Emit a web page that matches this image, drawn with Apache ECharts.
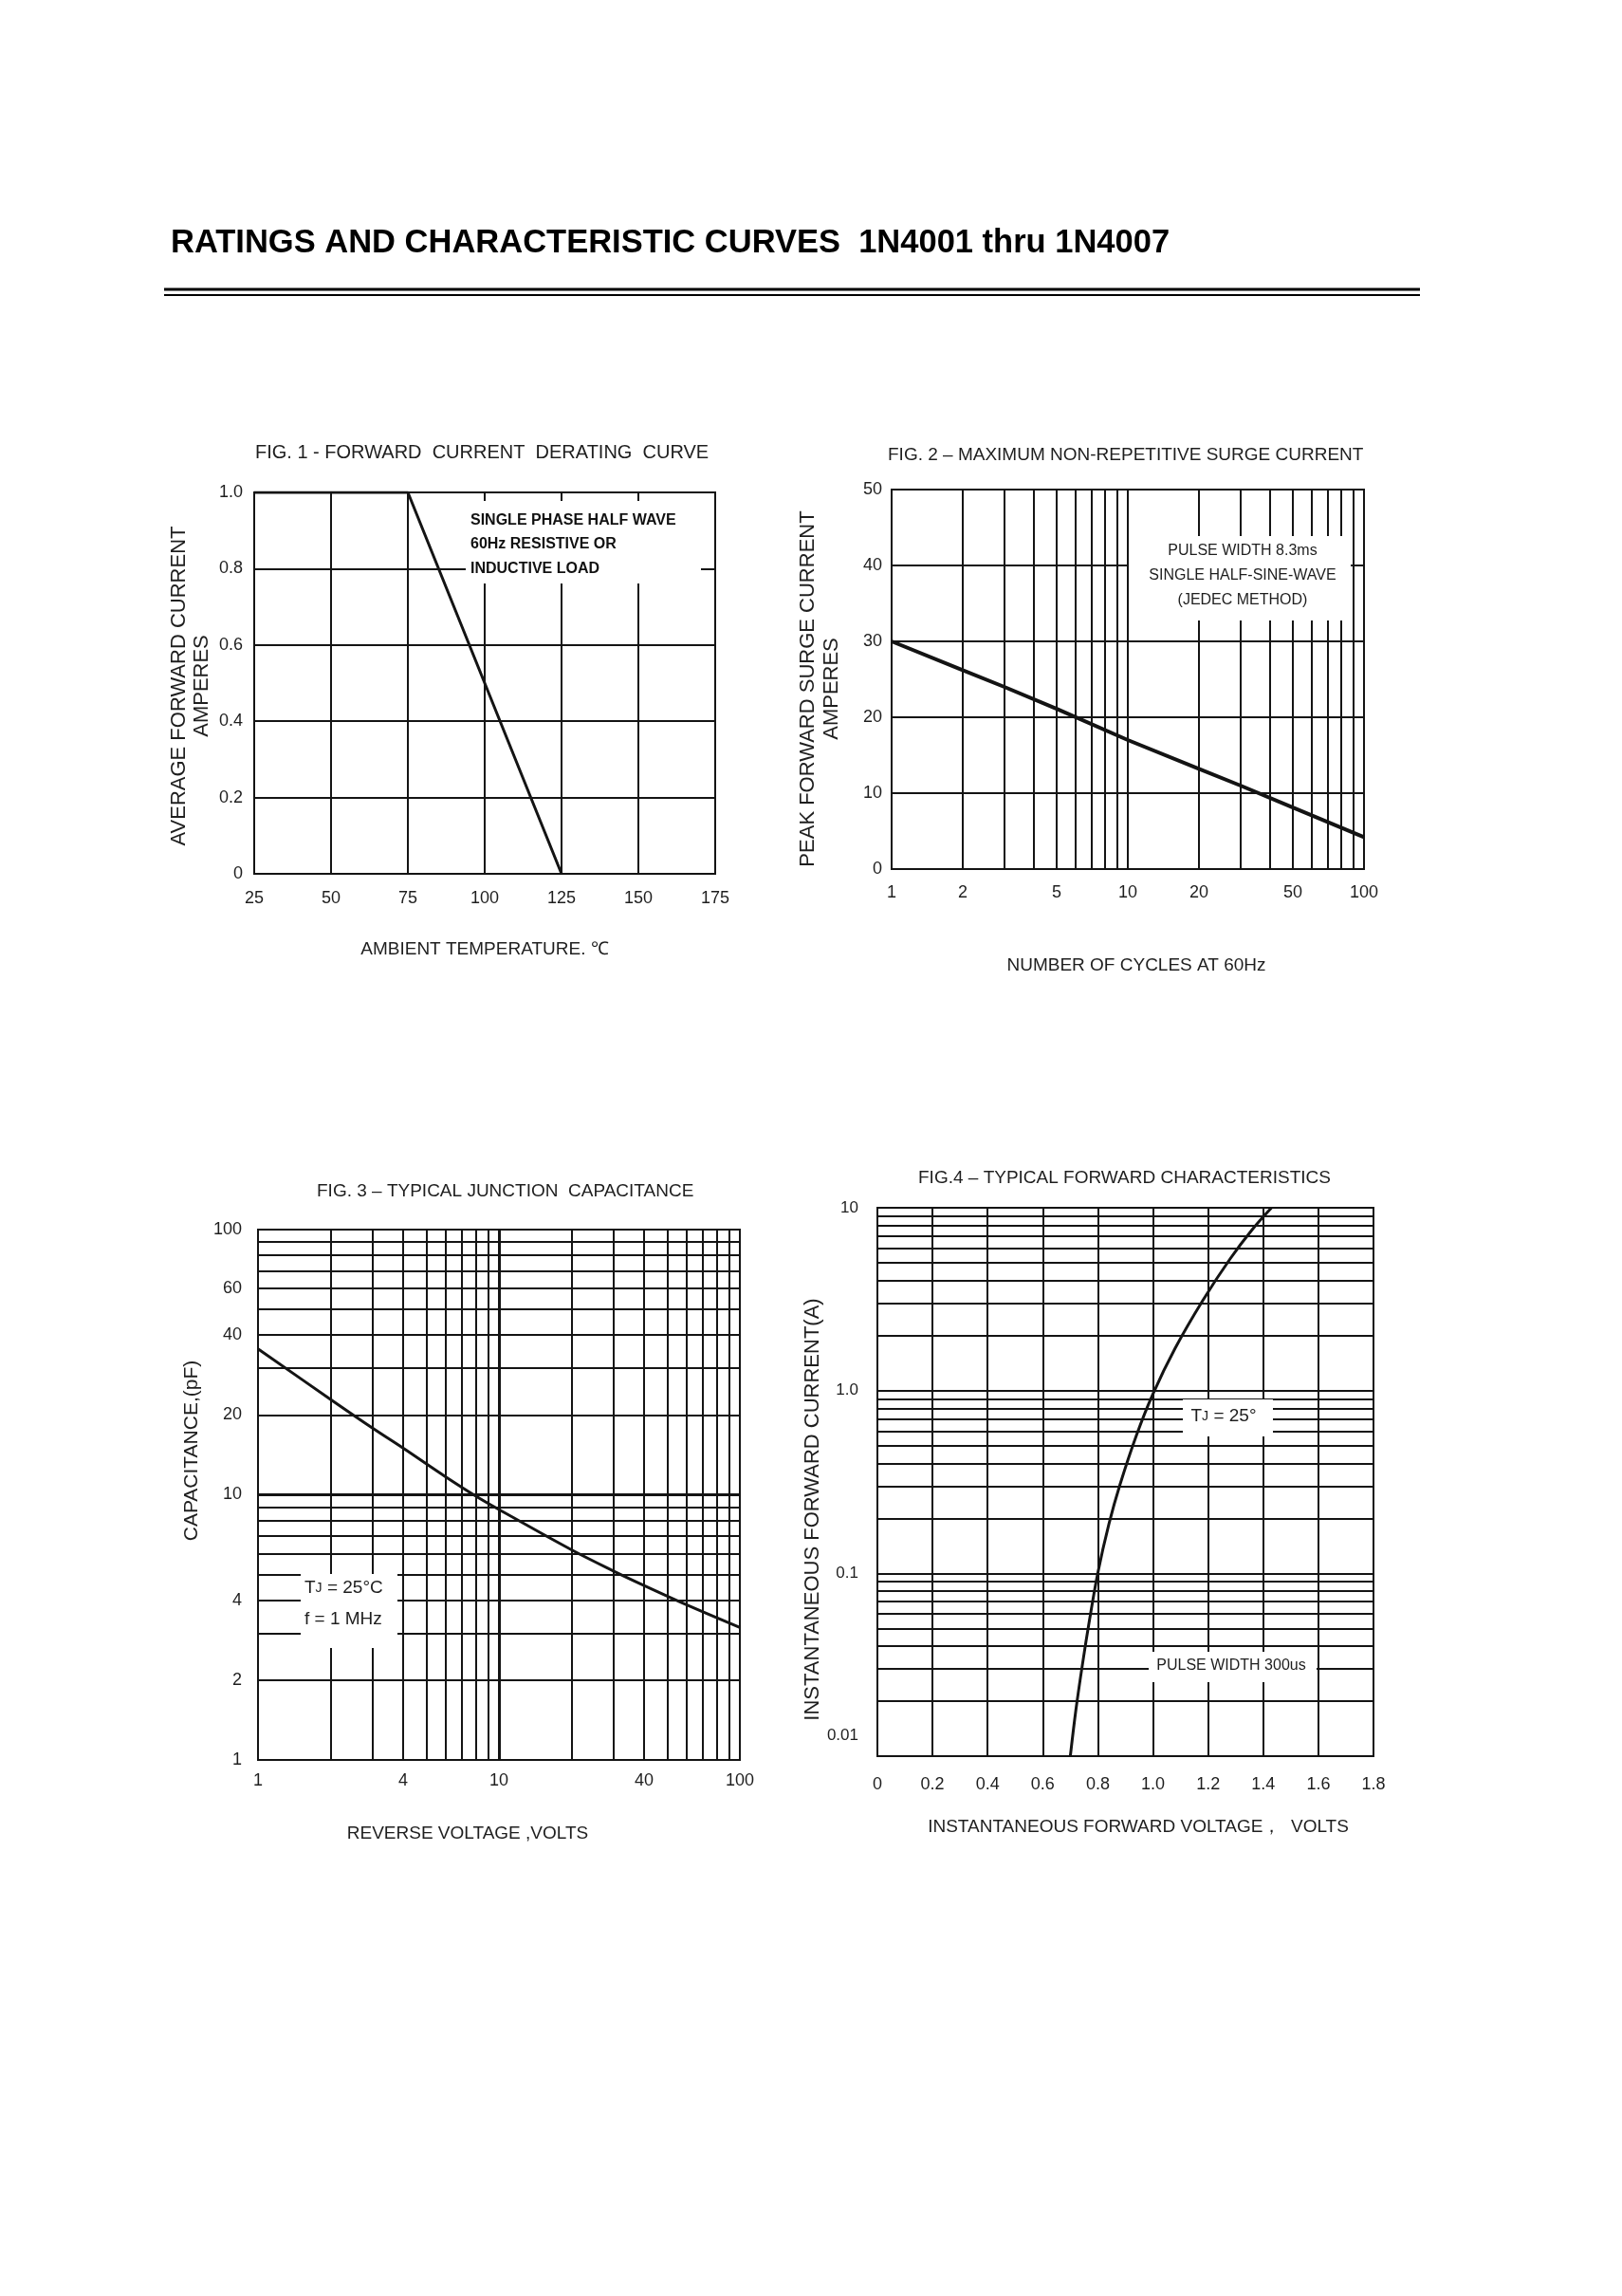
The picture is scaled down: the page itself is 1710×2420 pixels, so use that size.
<!DOCTYPE html>
<html>
<head>
<meta charset="utf-8">
<title>1N4001 thru 1N4007</title>
<script src="https://cdn.jsdelivr.net/npm/echarts@6/dist/echarts.min.js"></script>
<style>
  html, body { margin: 0; padding: 0; background: #fff; }
  #chart { width: 1710px; height: 2420px; }
</style>
</head>
<body>
<div id="chart"></div>
<script>
// FIG. 1 - forward current derating
const fig1Temp = [25, 75, 125]
const fig1Current = [1.0, 1.0, 0]

// FIG. 2 - max non-repetitive surge current
const fig2Cycles = [1, 2, 3, 5, 10, 20, 30, 50, 100]
const fig2Surge = [30, 26.2, 24, 21.1, 17, 13.2, 11, 8.1, 4.2]
const fig2CycleLabels = [1, 2, 5, 10, 20, 50, 100]
const fig2CycleGrid = [2, 3, 4, 5, 6, 7, 8, 9, 10, 20, 30, 40, 50, 60, 70, 80, 90]

// FIG. 3 - typical junction capacitance
const fig3Voltage = [1, 2, 3, 4, 6, 8, 10, 20, 30, 40, 60, 100]
const fig3Cap = [35.5, 22.9, 17.8, 15.0, 11.7, 9.9, 8.8, 6.2, 5.15, 4.55, 3.85, 3.16]
const fig3VoltLabels = [1, 4, 10, 40, 100]
const fig3CapLabels = [1, 2, 4, 10, 20, 40, 60, 100]
const fig3LogGrid = [2, 3, 4, 5, 6, 7, 8, 9, 20, 30, 40, 50, 60, 70, 80, 90]

// FIG. 4 - typical forward characteristics
const fig4Voltage = [0.70, 0.72, 0.745, 0.77, 0.80, 0.84, 0.88, 0.94, 1.00, 1.08, 1.18, 1.28, 1.36, 1.43]
const fig4Current = [0.01, 0.0178, 0.0325, 0.056, 0.101, 0.186, 0.305, 0.57, 0.96, 1.7, 3.1, 5.26, 7.6, 10]
const fig4CurrentGrid = [0.02, 0.03, 0.04, 0.05, 0.06, 0.07, 0.08, 0.09, 0.1,
  0.2, 0.3, 0.4, 0.5, 0.6, 0.7, 0.8, 0.9, 1, 2, 3, 4, 5, 6, 7, 8, 9]

const INK = '#141414'
const TXT = '#1e1e1e'
const FONT = '"Liberation Sans", Arial, Helvetica, sans-serif'

const chart = echarts.init(document.getElementById('chart'), null, { renderer: 'canvas' })

function zip(xs, ys) {
  return xs.map((x, i) => [x, ys[i]])
}

// grid lines that the log axes can not draw by themselves
function gridLines(idx, xs, ys, extra) {
  const data = xs.map(v => ({ xAxis: v })).concat(ys.map(v => ({ yAxis: v })))
  ;(extra || []).forEach(e => data.push(e))
  return {
    type: 'line',
    xAxisIndex: idx,
    yAxisIndex: idx,
    data: [],
    silent: true,
    showSymbol: false,
    z: 1,
    markLine: {
      silent: true,
      animation: false,
      symbol: ['none', 'none'],
      label: { show: false },
      emphasis: { disabled: true },
      lineStyle: { color: INK, width: 2, type: 'solid' },
      data: data
    }
  }
}

function curve(idx, data, smooth, width) {
  return {
    type: 'line',
    xAxisIndex: idx,
    yAxisIndex: idx,
    data: data,
    smooth: smooth,
    showSymbol: false,
    silent: true,
    z: 5,
    lineStyle: { color: INK, width: width || 3 }
  }
}

const labelBase = { color: TXT, fontSize: 18, fontFamily: FONT }
const gridBase = { show: true, borderColor: INK, borderWidth: 2, backgroundColor: 'transparent' }
const split = { show: true, lineStyle: { color: INK, width: 2 } }

function txt(x, y, s, extra) {
  return {
    type: 'text', x: x, y: y, z: 60, silent: true,
    style: Object.assign({
      text: s, fill: TXT, fontSize: 19, fontFamily: FONT,
      align: 'center', verticalAlign: 'middle'
    }, extra || {})
  }
}
function vtxt(x, y, s, size) {
  const t = txt(x, y, s, { fontSize: size || 22 })
  t.rotation = Math.PI / 2
  return t
}
function mask(x, y, w, h) {
  return { type: 'rect', z: 50, silent: true, shape: { x: x, y: y, width: w, height: h }, style: { fill: '#fff' } }
}

const option = {
  animation: false,
  backgroundColor: '#fff',
  grid: [
    Object.assign({ left: 268, top: 519, width: 486, height: 402 }, gridBase),
    Object.assign({ left: 940, top: 516, width: 498, height: 400 }, gridBase),
    Object.assign({ left: 272, top: 1296, width: 508, height: 559 }, gridBase),
    Object.assign({ left: 925, top: 1273, width: 523, height: 578 }, gridBase)
  ],
  xAxis: [
    {
      gridIndex: 0, type: 'value', min: 25, max: 175, interval: 25,
      axisLine: { show: false }, axisTick: { show: false }, splitLine: split,
      axisLabel: Object.assign({ margin: 17 }, labelBase)
    },
    {
      gridIndex: 1, type: 'log', logBase: 10, min: 1, max: 100,
      axisLine: { show: false }, axisTick: { show: false }, splitLine: { show: false },
      axisLabel: Object.assign({ margin: 16, customValues: fig2CycleLabels }, labelBase)
    },
    {
      gridIndex: 2, type: 'log', logBase: 10, min: 1, max: 100,
      axisLine: { show: false }, axisTick: { show: false }, splitLine: { show: false },
      axisLabel: Object.assign({ margin: 13, customValues: fig3VoltLabels }, labelBase)
    },
    {
      gridIndex: 3, type: 'value', min: 0, max: 1.8, interval: 0.2,
      axisLine: { show: false }, axisTick: { show: false }, splitLine: split,
      axisLabel: Object.assign({
        margin: 21,
        formatter: v => (v === 0 ? '0' : v.toFixed(1))
      }, labelBase)
    }
  ],
  yAxis: [
    {
      gridIndex: 0, type: 'value', min: 0, max: 1, interval: 0.2,
      axisLine: { show: false }, axisTick: { show: false }, splitLine: split,
      axisLabel: Object.assign({
        margin: 12,
        formatter: v => (v === 0 ? '0' : v.toFixed(1))
      }, labelBase)
    },
    {
      gridIndex: 1, type: 'value', min: 0, max: 50, interval: 10,
      axisLine: { show: false }, axisTick: { show: false }, splitLine: split,
      axisLabel: Object.assign({ margin: 10 }, labelBase)
    },
    {
      gridIndex: 2, type: 'log', logBase: 10, min: 1, max: 100,
      axisLine: { show: false }, axisTick: { show: false }, splitLine: { show: false },
      axisLabel: Object.assign({ margin: 17, customValues: fig3CapLabels }, labelBase)
    },
    {
      gridIndex: 3, type: 'log', logBase: 10, min: 0.01, max: 10,
      axisLine: { show: false }, axisTick: { show: false }, splitLine: { show: false },
      axisLabel: Object.assign({}, labelBase, {
        margin: 20,
        fontSize: 17,
        formatter: v => {
          if (v < 0.011) return '{lo|0.01}'
          if (Math.abs(v - 1) < 1e-9) return '1.0'
          return String(+v.toPrecision(3))
        },
        rich: { lo: { fontSize: 17, fontFamily: FONT, color: TXT, padding: [0, 0, 44, 0] } }
      })
    }
  ],
  series: [
    gridLines(1, fig2CycleGrid, []),
    gridLines(2, fig3LogGrid, fig3LogGrid, [
      { xAxis: 10, lineStyle: { width: 3 } },
      { yAxis: 10, lineStyle: { width: 3 } }
    ]),
    gridLines(3, [], fig4CurrentGrid),
    curve(0, zip(fig1Temp, fig1Current), false, 3),
    curve(1, zip(fig2Cycles, fig2Surge), false, 4),
    curve(2, zip(fig3Voltage, fig3Cap), 0.35, 3),
    curve(3, zip(fig4Voltage, fig4Current), 0.35, 3)
  ],
  graphic: [
    // page heading and double rule
    txt(180, 256, 'RATINGS AND CHARACTERISTIC CURVES  1N4001 thru 1N4007',
      { align: 'left', fontSize: 34.5, fontWeight: 'bold', fill: '#000' }),
    { type: 'line', z: 50, silent: true, shape: { x1: 173, y1: 305, x2: 1497, y2: 305 }, style: { stroke: '#000', lineWidth: 3 } },
    { type: 'line', z: 50, silent: true, shape: { x1: 173, y1: 311, x2: 1497, y2: 311 }, style: { stroke: '#000', lineWidth: 2 } },

    // FIG. 1
    txt(269, 477, 'FIG. 1 - FORWARD  CURRENT  DERATING  CURVE', { align: 'left', fontSize: 20 }),
    txt(511, 1001, 'AMBIENT TEMPERATURE. ℃'),
    vtxt(189, 723, 'AVERAGE FORWARD CURRENT'),
    vtxt(213, 723, 'AMPERES'),
    mask(491, 528, 248, 87),
    txt(496, 549, 'SINGLE PHASE HALF WAVE', { align: 'left', fontSize: 16, fontWeight: 'bold', fill: '#111' }),
    txt(496, 574, '60Hz RESISTIVE OR', { align: 'left', fontSize: 16, fontWeight: 'bold', fill: '#111' }),
    txt(496, 600, 'INDUCTIVE LOAD', { align: 'left', fontSize: 16, fontWeight: 'bold', fill: '#111' }),

    // FIG. 2
    txt(936, 480, 'FIG. 2 – MAXIMUM NON-REPETITIVE SURGE CURRENT', { align: 'left', fontSize: 19 }),
    txt(1198, 1018, 'NUMBER OF CYCLES AT 60Hz'),
    vtxt(852, 726, 'PEAK FORWARD SURGE CURRENT'),
    vtxt(877, 726, 'AMPERES'),
    mask(1190, 565, 234, 89),
    txt(1310, 581, 'PULSE WIDTH 8.3ms', { fontSize: 16 }),
    txt(1310, 607, 'SINGLE HALF-SINE-WAVE', { fontSize: 16 }),
    txt(1310, 633, '(JEDEC METHOD)', { fontSize: 16 }),

    // FIG. 3
    txt(334, 1256, 'FIG. 3 – TYPICAL JUNCTION  CAPACITANCE', { align: 'left', fontSize: 19 }),
    txt(493, 1933, 'REVERSE VOLTAGE ,VOLTS'),
    vtxt(202, 1529, 'CAPACITANCE,(pF)', 21),
    mask(317, 1659, 102, 78),
    txt(321, 1674, 'T{j|J} = 25°C', { align: 'left', fontSize: 19, rich: { j: { fontSize: 14, fontFamily: FONT, fill: TXT } } }),
    txt(321, 1707, 'f = 1 MHz', { align: 'left', fontSize: 19 }),

    // FIG. 4
    txt(968, 1242, 'FIG.4 – TYPICAL FORWARD CHARACTERISTICS', { align: 'left', fontSize: 19 }),
    txt(1200, 1926, 'INSTANTANEOUS FORWARD VOLTAGE，  VOLTS'),
    vtxt(857, 1591, 'INSTANTANEOUS FORWARD CURRENT(A)', 22),
    mask(1247, 1475, 95, 39),
    txt(1290, 1493, 'T{j|J} = 25°', { fontSize: 19, rich: { j: { fontSize: 14, fontFamily: FONT, fill: TXT } } }),
    mask(1211, 1741, 177, 32),
    txt(1298, 1756, 'PULSE WIDTH 300us', { fontSize: 16 })
  ]
}

chart.setOption(option)
</script>
</body>
</html>
